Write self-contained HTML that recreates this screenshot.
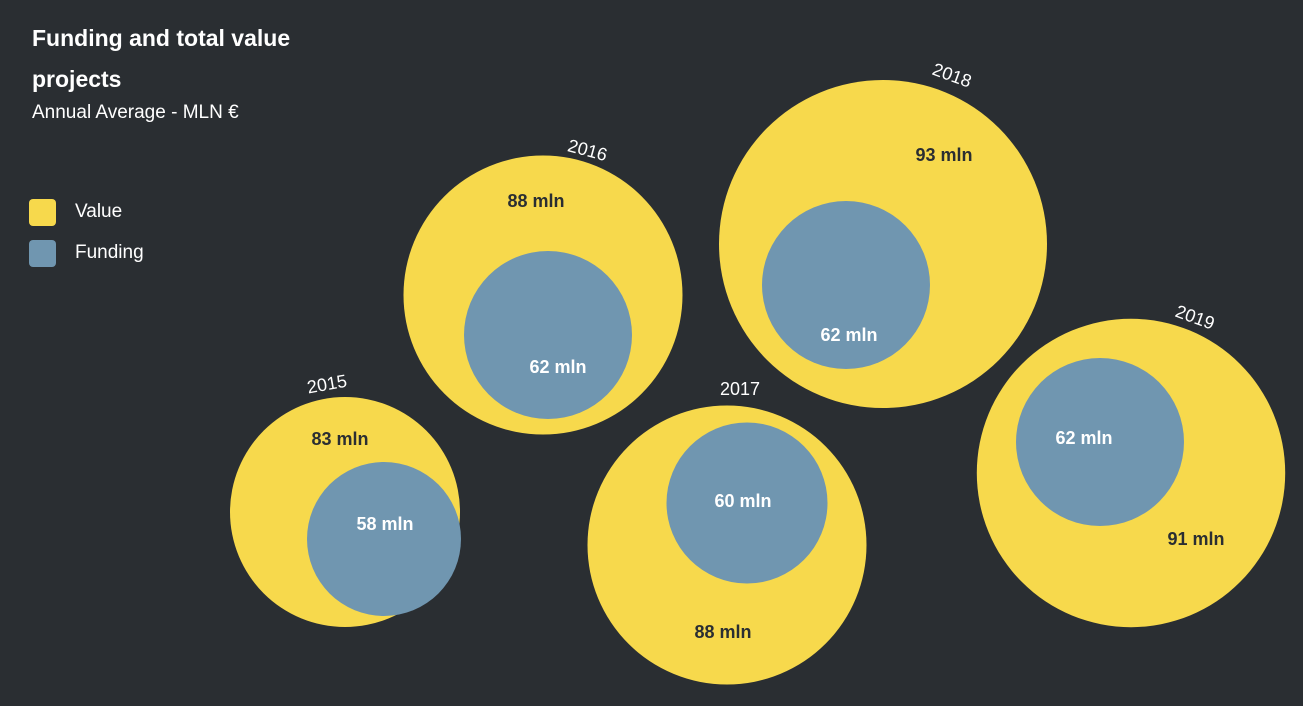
<!DOCTYPE html>
<html><head><meta charset="utf-8">
<style>
html,body{margin:0;padding:0;background:#2a2e32;}
body{width:1303px;height:706px;overflow:hidden;position:relative;font-family:"Liberation Sans",sans-serif;}
.t{position:absolute;color:#fff;}
</style></head>
<body>
<div class="t" style="left:32px;top:18px;font-size:23px;font-weight:bold;line-height:41px;width:320px;">Funding and total value projects</div>
<div class="t" style="left:32px;top:102px;font-size:19px;">Annual Average - MLN €</div>
<div style="position:absolute;left:29px;top:199px;width:27px;height:27px;border-radius:4px;background:#f7d94c"></div>
<div class="t" style="left:75px;top:201px;font-size:19px;">Value</div>
<div style="position:absolute;left:29px;top:240px;width:27px;height:27px;border-radius:4px;background:#7096b0"></div>
<div class="t" style="left:75px;top:242px;font-size:19px;">Funding</div>
<svg id="chart" width="1303" height="706" style="position:absolute;left:0;top:0"></svg>
<script>
const years=["2015","2016","2017","2018","2019"];
const values=[83,88,88,93,91];
const funding=[58,62,60,62,62];
// layout (not data)
const layout=[
 {cx:345,cy:512,bx:39,by:27,vl:[340,445],fl:[385,530],yl:[328,390,-10]},
 {cx:543,cy:295,bx:5,by:40,vl:[536,207],fl:[558,373],yl:[586,156,15]},
 {cx:727,cy:545,bx:20,by:-42,vl:[723,638],fl:[743,507],yl:[740,395,0]},
 {cx:883,cy:244,bx:-37,by:41,vl:[944,161],fl:[849,341],yl:[950,81,20]},
 {cx:1131,cy:473,bx:-31,by:-31,vl:[1196,545],fl:[1084,444],yl:[1193,323,20]}
];
function rValue(v){return 115+(v-83)*4.9;}
function rFund(v){return 77+(v-58)*1.75;}
const svg=document.getElementById('chart');
const NS="http://www.w3.org/2000/svg";
function mk(tag,attrs){const e=document.createElementNS(NS,tag);for(const k in attrs)e.setAttribute(k,attrs[k]);svg.appendChild(e);return e;}
years.forEach((y,i)=>{
 const L=layout[i];
 const c=mk('circle',{cx:L.cx,cy:L.cy,r:rValue(values[i]),fill:'#f7d94c'});
 
 
 const b=mk('circle',{cx:L.cx+L.bx,cy:L.cy+L.by,r:rFund(funding[i]),fill:'#7096b0'});
 
 
 const vt=mk('text',{x:L.vl[0],y:L.vl[1],'text-anchor':'middle','font-size':18,'font-weight':'bold',fill:'#2a2e32','font-family':'Liberation Sans, sans-serif'});
 vt.textContent=values[i]+' mln';
 
 
 const ft=mk('text',{x:L.fl[0],y:L.fl[1],'text-anchor':'middle','font-size':18,'font-weight':'bold',fill:'#ffffff','font-family':'Liberation Sans, sans-serif'});
 ft.textContent=funding[i]+' mln';
 
 
 const yt=mk('text',{x:L.yl[0],y:L.yl[1],'text-anchor':'middle','font-size':18,fill:'#ffffff','font-family':'Liberation Sans, sans-serif',transform:'rotate('+L.yl[2]+' '+L.yl[0]+' '+L.yl[1]+')'});
 yt.textContent=y;
 
 
});
</script>
</body></html>
